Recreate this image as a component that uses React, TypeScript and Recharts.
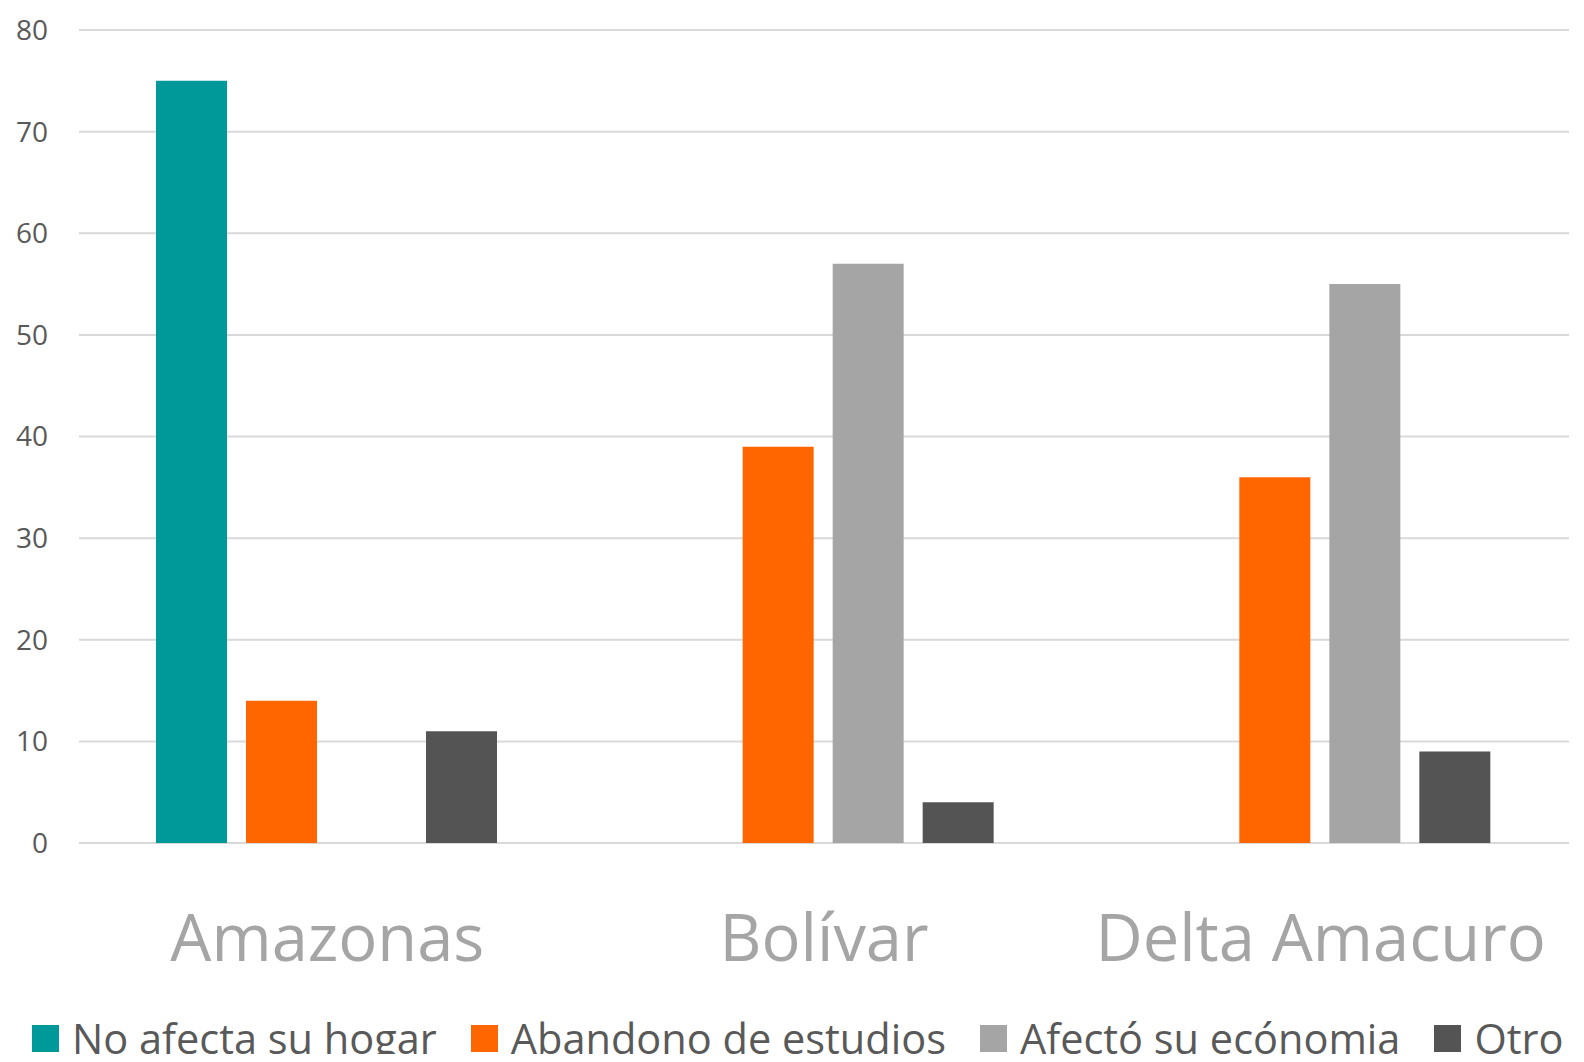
import React from 'react';
import { BarChart, Bar, XAxis, YAxis, CartesianGrid, Legend } from 'recharts';

const categories = ['Amazonas', 'Bolívar', 'Delta Amacuro'];
const noAfecta = [75, null, null];
const abandono = [14, 39, 36];
const afecto = [null, 57, 55];
const otro = [11, 4, 9];
const yTicks = [0, 10, 20, 30, 40, 50, 60, 70, 80];

const seriesNames = ['No afecta su hogar', 'Abandono de estudios', 'Afectó su ecónomia', 'Otro'];
const seriesColors = ['#009999', '#ff6600', '#a5a5a5', '#545454'];

const data = categories.map((c, i) => ({
  name: c,
  s0: noAfecta[i],
  s1: abandono[i],
  s2: afecto[i],
  s3: otro[i],
}));

const FONT = '"Open Sans", "DejaVu Sans", sans-serif';

const LegendContent = () => (
  <div
    style={{
      display: 'flex',
      alignItems: 'center',
      whiteSpace: 'nowrap',
      paddingLeft: 32,
      paddingTop: 22,
      height: 48,
      fontFamily: FONT,
      fontSize: 41.5,
      color: '#595959',
      lineHeight: '54px',
    }}
  >
    {seriesNames.map((n, i) => (
      <div key={n} style={{ display: 'flex', alignItems: 'center', marginRight: 34, flexShrink: 0 }}>
        <div style={{ width: 27, height: 27, background: seriesColors[i], marginRight: 13 }} />
        <span>{n}</span>
      </div>
    ))}
  </div>
);

export default function App() {
  return (
    <div style={{ margin: -8, width: 1584, height: 1062, overflow: 'hidden', background: '#fff', position: 'relative' }}>
      <BarChart
        width={1584}
        height={1062}
        data={data}
        margin={{ top: 30, right: 15, left: 0, bottom: 0 }}
        barCategoryGap={77}
        barGap={19}
        style={{ fontFamily: FONT }}
      >
        <CartesianGrid vertical={false} stroke="#d9d9d9" strokeWidth={2} />
        <XAxis
          dataKey="name"
          axisLine={false}
          tickLine={false}
          height={149}
          tickMargin={66}
          tick={{ fill: '#a5a5a5', fontSize: 65, fontFamily: FONT }}
          interval={0}
        />
        <YAxis
          width={79}
          domain={[0, 80]}
          ticks={yTicks}
          axisLine={false}
          tickLine={false}
          tickMargin={25}
          tick={{ fill: '#595959', fontSize: 28, fontFamily: FONT }}
        />
        <Legend
          verticalAlign="bottom"
          align="left"
          wrapperStyle={{ left: 0, width: 1700, height: 70 }}
          content={<LegendContent />}
        />
        {seriesNames.map((n, i) => (
          <Bar key={n} dataKey={`s${i}`} name={n} fill={seriesColors[i]} isAnimationActive={false} />
        ))}
      </BarChart>
    </div>
  );
}
